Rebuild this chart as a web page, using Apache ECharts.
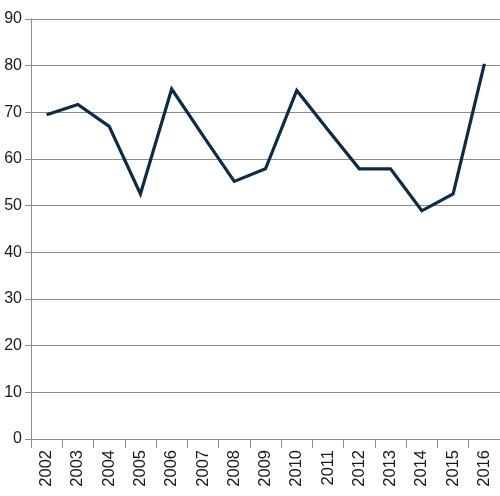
<!DOCTYPE html>
<html><head><meta charset="utf-8">
<script src="https://cdn.jsdelivr.net/npm/echarts@6/dist/echarts.min.js"></script>
<style>html,body{margin:0;padding:0;background:#fff}#c{width:500px;height:496px}</style>
</head><body><div id="c"></div>
<script>
var categories = ['2002','2003','2004','2005','2006','2007','2008','2009','2010','2011','2012','2013','2014','2015','2016'];
var values = [69.5, 71.7, 67.0, 52.5, 75.0, 65.0, 55.2, 57.9, 74.7, 66.2, 57.9, 57.9, 48.9, 52.5, 80.4];
var yTicks = {min: 0, max: 90, interval: 10};

var chart = echarts.init(document.getElementById('c'), null, {renderer: 'canvas'});
chart.setOption({
  animation: false,
  grid: {left: 31, right: 0, top: 19, bottom: 57, containLabel: false},
  xAxis: {
    type: 'category', data: categories, boundaryGap: true,
    axisLine: {lineStyle: {color: '#8c8c8c', width: 1}},
    axisTick: {show: true, length: 9, alignWithLabel: false, lineStyle: {color: '#8c8c8c'}},
    axisLabel: {rotate: 90, margin: 11, fontFamily: 'Liberation Sans', fontSize: 16.5, color: '#1a1a1a'},
    splitLine: {show: false}
  },
  yAxis: {
    type: 'value', min: yTicks.min, max: yTicks.max, interval: yTicks.interval,
    axisLine: {show: true, lineStyle: {color: '#8c8c8c', width: 1}},
    axisTick: {show: true, length: 6, lineStyle: {color: '#8c8c8c'}},
    axisLabel: {margin: 9, fontFamily: 'Liberation Sans', fontSize: 16, color: '#1a1a1a'},
    splitLine: {show: true, lineStyle: {color: '#8c8c8c', width: 1}}
  },
  series: [{
    type: 'line', data: values, symbol: 'none',
    lineStyle: {color: '#0f2a44', width: 3.2, join: 'miter'},
    itemStyle: {color: '#0f2a44'}
  }]
});
</script></body></html>
